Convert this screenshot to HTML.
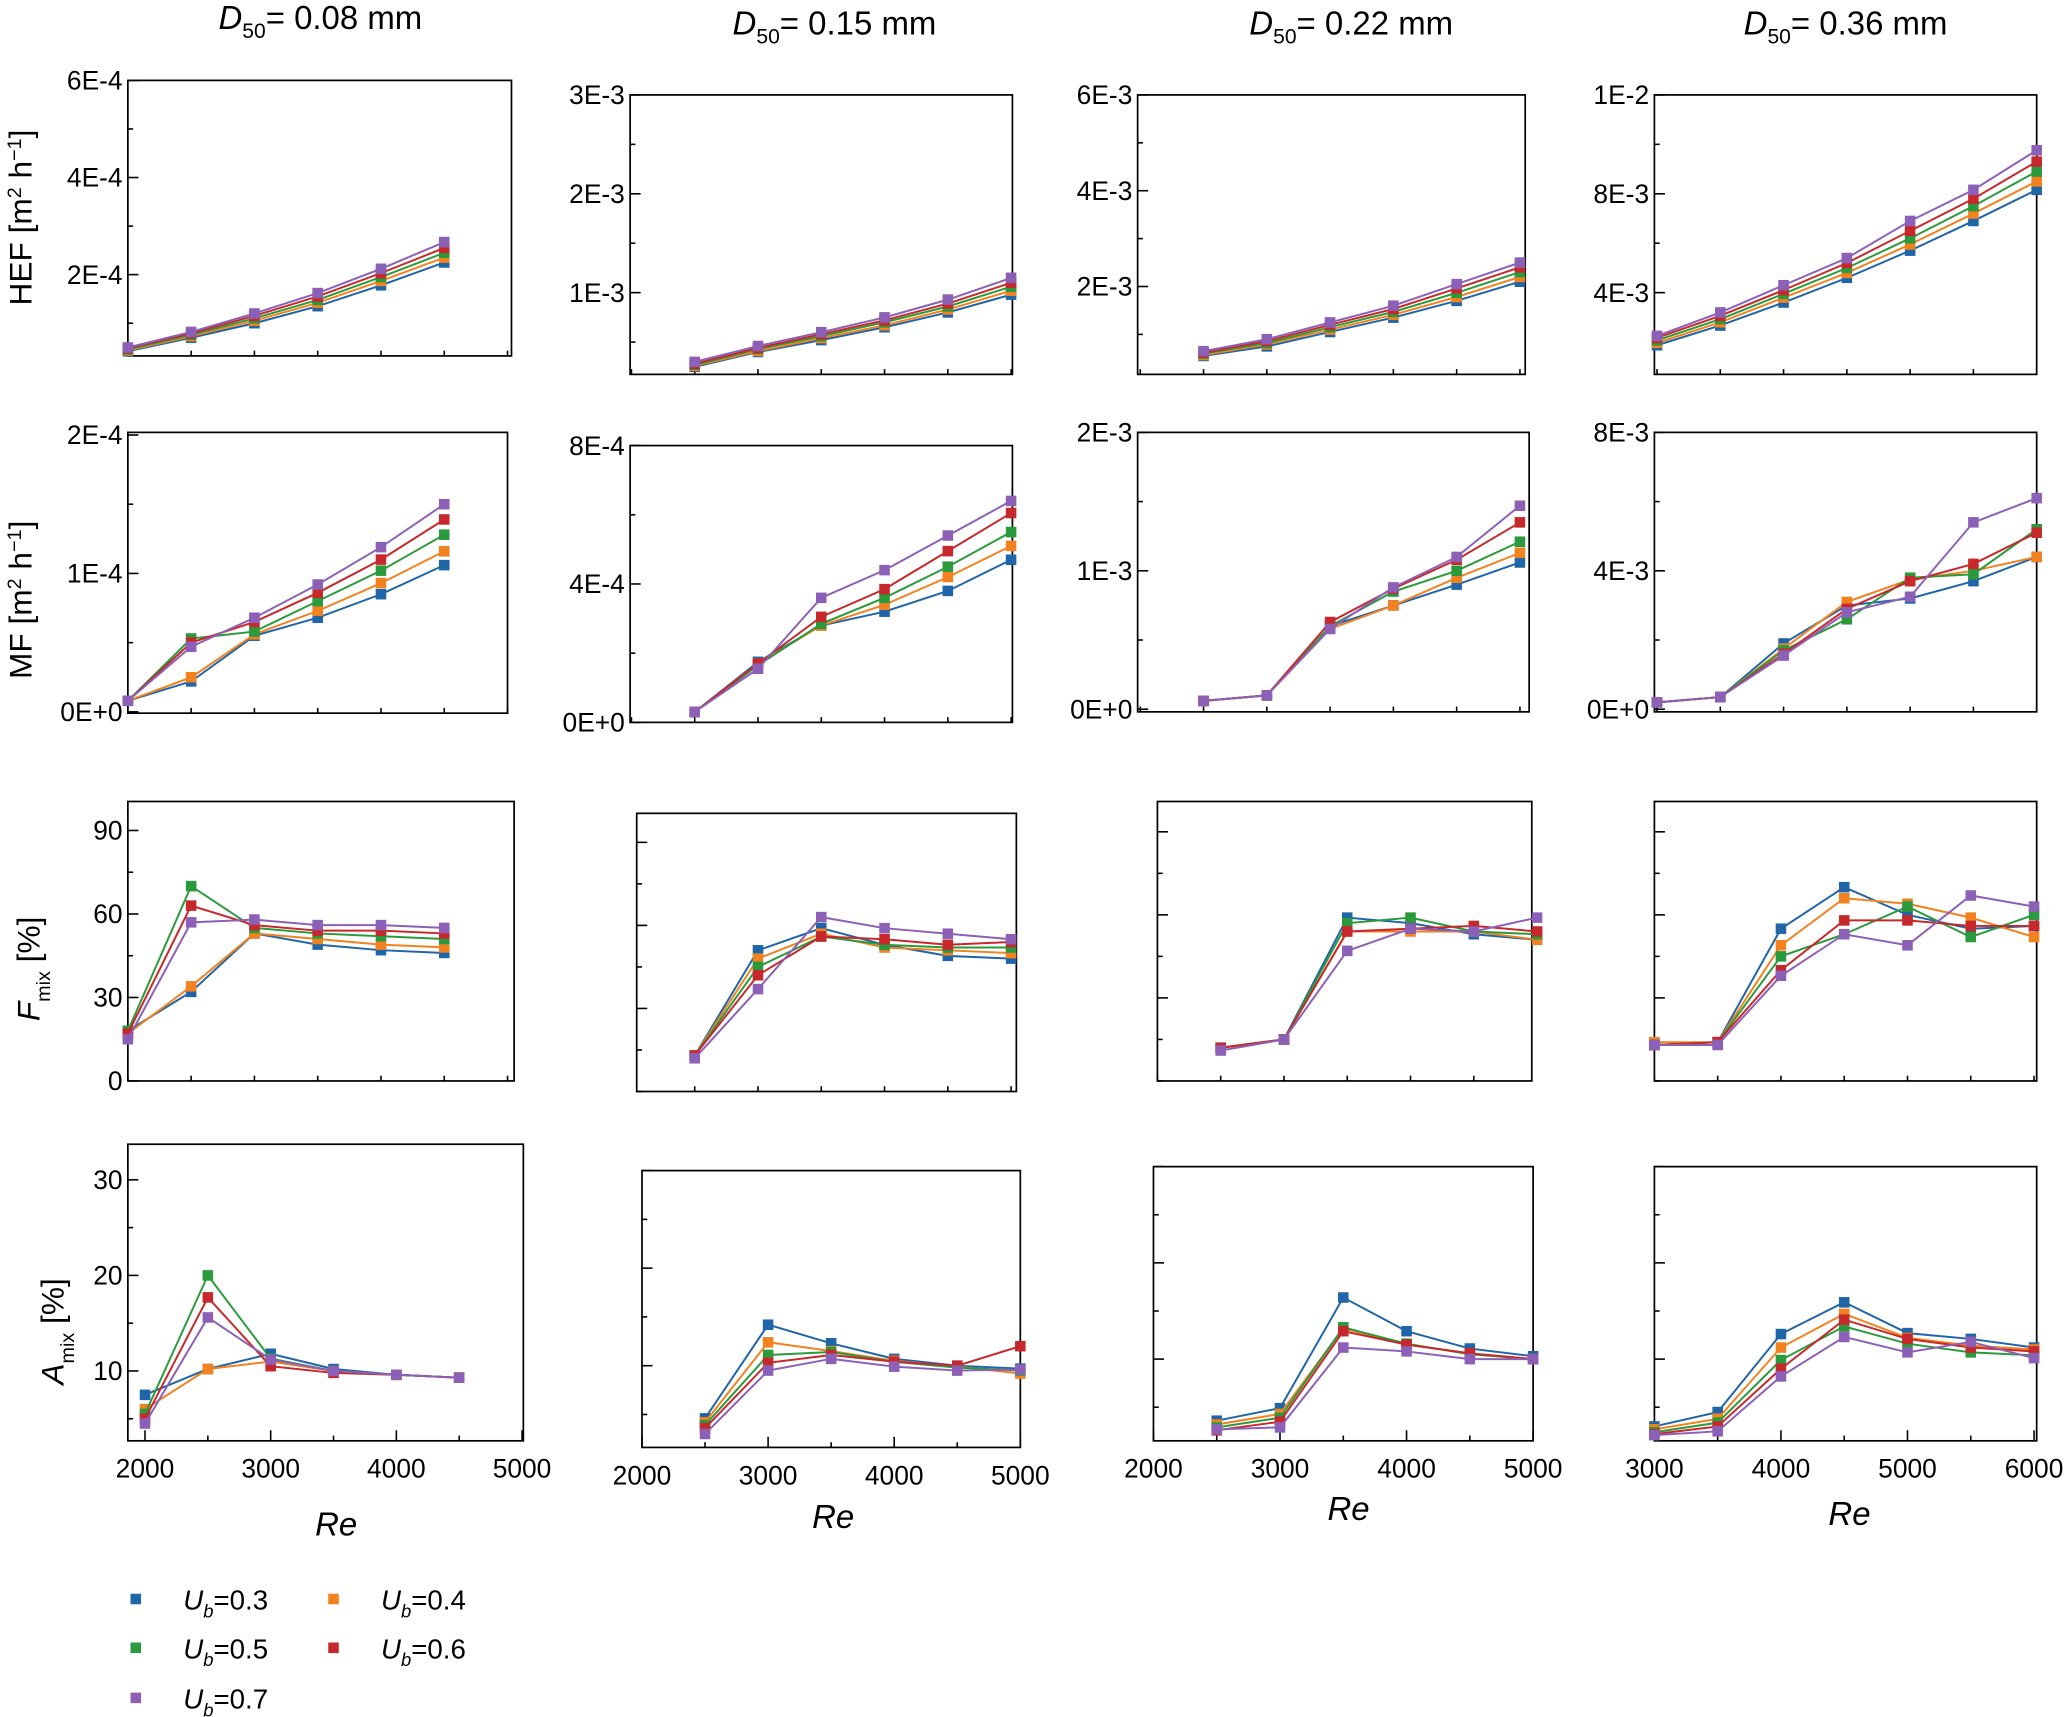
<!DOCTYPE html>
<html><head><meta charset="utf-8"><title>Chart</title>
<style>
html,body{margin:0;padding:0;background:#fff;}
svg{display:block;font-family:"Liberation Sans",sans-serif;}
</style></head>
<body>
<svg id="chart" width="2067" height="1717" viewBox="0 0 1568 1302.5" preserveAspectRatio="none" xmlns="http://www.w3.org/2000/svg">
<g id="titles" font-size="25" text-anchor="middle">
<text x="243" y="22"><tspan font-style="italic">D</tspan><tspan font-size="16" dy="7">50</tspan><tspan dy="-7">= 0.08 mm</tspan></text>
<text x="633" y="26"><tspan font-style="italic">D</tspan><tspan font-size="16" dy="7">50</tspan><tspan dy="-7">= 0.15 mm</tspan></text>
<text x="1025" y="26"><tspan font-style="italic">D</tspan><tspan font-size="16" dy="7">50</tspan><tspan dy="-7">= 0.22 mm</tspan></text>
<text x="1400" y="26"><tspan font-style="italic">D</tspan><tspan font-size="16" dy="7">50</tspan><tspan dy="-7">= 0.36 mm</tspan></text>
</g>
<g font-size="24">
<text transform="translate(24,165) rotate(-90)" text-anchor="middle">HEF [m<tspan font-size="15" dy="-8">2</tspan><tspan dy="8"> h</tspan><tspan font-size="15" dy="-8">−1</tspan><tspan dy="8">]</tspan></text>
<text transform="translate(24,455) rotate(-90)" text-anchor="middle">MF [m<tspan font-size="15" dy="-8">2</tspan><tspan dy="8"> h</tspan><tspan font-size="15" dy="-8">−1</tspan><tspan dy="8">]</tspan></text>
<text transform="translate(30,735) rotate(-90)" text-anchor="middle"><tspan font-style="italic">F</tspan><tspan font-size="15" dy="8">mix</tspan><tspan dy="-8"> [%]</tspan></text>
<text transform="translate(48,1010) rotate(-90)" text-anchor="middle"><tspan font-style="italic">A</tspan><tspan font-size="15" dy="8">mix</tspan><tspan dy="-8"> [%]</tspan></text>
</g>
<g id="panels"></g>
<g id="legend"></g>
</svg>
<script>
const seriesLabels = ['0.3','0.4','0.5','0.6','0.7'];
const seriesColors = ['#1f65a8','#f28220','#2a9a3c','#c7282b','#8d60b8'];
const reA = [2000,2500,3000,3500,4000,4500];
const reB = [2500,3000,3500,4000,4500,5000];
const reC = [3000,3500,4000,4500,5000,5500,6000];
// HEF (units of 1e-4 / 1e-3)
const hef008 = [[0.42,0.7,1.0,1.35,1.78,2.25],[0.44,0.73,1.05,1.42,1.87,2.35],[0.46,0.76,1.1,1.48,1.95,2.45],[0.48,0.79,1.15,1.55,2.03,2.55],[0.5,0.82,1.2,1.62,2.12,2.67]];
const hef015 = [[.25,.40,.52,.65,.80,.98],[.26,.41,.54,.67,.83,1.02],[.27,.43,.56,.70,.86,1.06],[.28,.44,.58,.72,.89,1.10],[.30,.46,.60,.75,.93,1.15]];
const hef022 = [[.55,.75,1.05,1.35,1.70,2.10],[.57,.79,1.10,1.41,1.78,2.20],[.60,.82,1.15,1.47,1.87,2.30],[.62,.86,1.20,1.53,1.96,2.40],[.65,.90,1.25,1.60,2.05,2.50]];
const hef036 = [[1.87,2.67,3.6,4.6,5.7,6.9,8.16],[1.97,2.80,3.8,4.8,5.95,7.2,8.5],[2.07,2.93,3.95,5.0,6.2,7.5,8.9],[2.17,3.06,4.1,5.2,6.5,7.8,9.3],[2.25,3.2,4.3,5.4,6.9,8.16,9.76]];
// MF
const mf008 = [[0.08,0.22,0.55,0.68,0.85,1.06],[0.08,0.25,0.56,0.73,0.93,1.16],[0.08,0.53,0.58,0.8,1.02,1.28],[0.08,0.5,0.65,0.86,1.1,1.39],[0.08,0.47,0.68,0.92,1.19,1.5]];
const mf015 = [[0.3,1.75,2.8,3.2,3.8,4.7],[0.3,1.7,2.8,3.4,4.2,5.1],[0.3,1.65,2.85,3.6,4.5,5.5],[0.3,1.7,3.05,3.85,4.95,6.05],[0.3,1.55,3.6,4.4,5.4,6.4]];
const mf022 = [[0.06,0.1,0.6,0.75,0.9,1.06],[0.06,0.1,0.58,0.75,0.95,1.13],[0.06,0.1,0.6,0.85,1.0,1.21],[0.06,0.1,0.63,0.87,1.08,1.35],[0.06,0.1,0.58,0.88,1.1,1.47]];
const mf036 = [[0.2,0.35,1.9,3.0,3.2,3.7,4.4],[0.2,0.35,1.75,3.1,3.75,4.0,4.4],[0.2,0.35,1.7,2.6,3.8,3.9,5.2],[0.2,0.35,1.6,2.9,3.7,4.2,5.1],[0.2,0.35,1.55,2.8,3.25,5.4,6.1]];
// Fmix
const fmix008 = [[18,32,53,49,47,46],[17,34,53,51,49,48],[18,70,55,53,52,51],[17,63,56,54,54,53],[15,57,58,56,56,55]];
const fmix015 = [[13,51,59,53,49,48],[13,48,57,52,51,50],[13,45,56,53,52,52],[13,42,56,55,53,54],[12,37,63,59,57,55]];
const fmix022 = [[12,15,59,57,53,51],[12,15,54,54,54,51],[12,15,57,59,54,53],[12,15,54,55,56,54],[11,15,47,55,54,59]];
const fmix036 = [[13,14,55,70,60,55,56],[14,14,49,66,64,59,52],[13,14,45,53,63,52,60],[13,14,40,58,58,56,56],[13,13,38,53,49,67,63]];
// Amix
const amix008 = [[7.5,10.2,11.8,10.2,9.6,9.3],[6,10.2,11,10,9.6,9.3],[5.5,20,11.3,10,9.6,9.3],[5,17.7,10.5,9.8,9.6,9.3],[4.5,15.6,11.2,10,9.6,9.3]];
const amix015 = [[4.6,14.2,12.3,10.7,10,9.7],[4.2,12.4,11.5,10.5,9.9,9.2],[3.9,11.1,11.4,10.4,9.8,9.5],[3.6,10.3,11.1,10.4,10,12.0],[3.0,9.5,10.7,9.9,9.5,9.6]];
const amix022 = [[3.6,4.9,16.4,12.9,11.1,10.3],[3.2,4.3,13.2,11.5,10.6,10],[2.9,3.9,13.3,11.6,10.5,10],[2.6,3.5,12.9,11.5,10.6,10],[2.7,2.9,11.2,10.8,10,10]];
const amix036 = [[3.0,4.5,12.6,15.9,12.7,12.1,11.2],[2.7,3.8,11.2,14.7,12.2,11.4,11.0],[2.4,3.4,9.9,13.4,11.6,10.7,10.4],[2.2,3.0,9.0,14.1,12.1,11.2,10.8],[2.1,2.5,8.2,12.3,10.7,11.8,10.1]];
// tick labels
const ticksHef008 = [[2,'2E-4'],[4,'4E-4'],[6,'6E-4']];
const ticksHef015 = [[1,'1E-3'],[2,'2E-3'],[3,'3E-3']];
const ticksHef022 = [[2,'2E-3'],[4,'4E-3'],[6,'6E-3']];
const ticksHef036 = [[4,'4E-3'],[8,'8E-3'],[12,'1E-2']];
const ticksMf008 = [[0,'0E+0'],[1,'1E-4'],[2,'2E-4']];
const ticksMf015 = [[0,'0E+0'],[4,'4E-4'],[8,'8E-4']];
const ticksMf022 = [[0,'0E+0'],[1,'1E-3'],[2,'2E-3']];
const ticksMf036 = [[0,'0E+0'],[4,'4E-3'],[8,'8E-3']];
const ticksF = [[0,'0'],[30,'30'],[60,'60'],[90,'90']];
const ticksFnl = [[30,''],[60,''],[90,'']];
const ticksA = [[10,'10'],[20,'20'],[30,'30']];
const ticksAnl = [[10,''],[20,''],[30,'']];
const xTicksAB = [2000,3000,4000,5000];
const xTicksC = [3000,4000,5000,6000];

const NS='http://www.w3.org/2000/svg';
function mk(tag,attrs,parent){const e=document.createElementNS(NS,tag);for(const k in attrs)e.setAttribute(k,attrs[k]);if(parent)parent.appendChild(e);return e;}

const panels = [
 {id:'hef-008',data:hef008,xs:reA,box:[97,388,61,270],xd:[2000,5000,97,385],yd:[0,282,6,61],yt:ticksHef008,minor:1},
 {id:'hef-015',data:hef015,xs:reB,box:[478,768,72,284],xd:[2000,5000,479,767],yd:[0,297,3,72],yt:ticksHef015,minor:0.5},
 {id:'hef-022',data:hef022,xs:reB,box:[863,1157,72,284],xd:[2000,5000,865,1153],yd:[0,290,6,72],yt:ticksHef022,minor:1},
 {id:'hef-036',data:hef036,xs:reC,box:[1255,1545,72,284],xd:[3000,6000,1257,1545],yd:[0,297,12,72],yt:ticksHef036,minor:2},
 {id:'mf-008',data:mf008,xs:reA,box:[97,385,328,541],xd:[2000,5000,97,385],yd:[0,540,2,330],yt:ticksMf008,minor:0.5},
 {id:'mf-015',data:mf015,xs:reB,box:[478,768,338,548],xd:[2000,5000,479,767],yd:[0,548,8,338],yt:ticksMf015,minor:2},
 {id:'mf-022',data:mf022,xs:reB,box:[863,1160,328,540],xd:[2000,5000,865,1153],yd:[0,538,2,328],yt:ticksMf022,minor:0.5},
 {id:'mf-036',data:mf036,xs:reC,box:[1255,1545,328,540],xd:[3000,6000,1257,1545],yd:[0,538,8,328],yt:ticksMf036,minor:2},
 {id:'fmix-008',data:fmix008,xs:reA,box:[97,390,608,820],xd:[2000,5000,97,385],yd:[0,820,90,630],yt:ticksF,minor:15},
 {id:'fmix-015',data:fmix015,xs:reB,box:[483,771,617,828],xd:[2000,5000,479,767],yd:[0,828,90,639],yt:ticksFnl,minor:15},
 {id:'fmix-022',data:fmix022,xs:reB,box:[878,1162,608,820],xd:[2000,5000,878,1166],yd:[0,820,90,631],yt:ticksFnl,minor:15},
 {id:'fmix-036',data:fmix036,xs:reC,box:[1255,1545,608,820],xd:[3000,6000,1255,1543],yd:[0,820,90,631],yt:ticksFnl,minor:15},
 {id:'amix-008',data:amix008,xs:reA,box:[97,397,868,1093],xd:[2000,5000,110,396],yd:[0,1112.5,30,895],yt:ticksA,minor:5,xt:xTicksAB,xl:[255,1165]},
 {id:'amix-015',data:amix015,xs:reB,box:[487,774,888,1098],xd:[2000,5000,487,774],yd:[0,1110,20,962],yt:ticksAnl,minor:5,xt:xTicksAB,xl:[632,1159]},
 {id:'amix-022',data:amix022,xs:reB,box:[875,1163,885,1093],xd:[2000,5000,875,1163],yd:[0,1104,20,958],yt:ticksAnl,minor:5,xt:xTicksAB,xl:[1023,1153]},
 {id:'amix-036',data:amix036,xs:reC,box:[1255,1545,885,1093],xd:[3000,6000,1255,1543],yd:[0,1104,20,958],yt:ticksAnl,minor:5,xt:xTicksC,xl:[1403,1157]}
];

const root=document.getElementById('panels');
panels.forEach(p=>{
  const g=mk('g',{},root);
  
  
  const X=v=>p.xd[2]+(v-p.xd[0])/(p.xd[1]-p.xd[0])*(p.xd[3]-p.xd[2]);
  const Y=v=>p.yd[1]+(v-p.yd[0])/(p.yd[2]-p.yd[0])*(p.yd[3]-p.yd[1]);
  const [x0,x1,y0,y1]=p.box;
  const frame=mk('rect',{x:x0,y:y0,width:x1-x0,height:y1-y0,fill:'none',stroke:'#000','stroke-width':1.3},g);
  
  
  const maxV=p.yt[p.yt.length-1][0];
  for(let v=0;v<=maxV+1e-9;v+=p.minor){
    const py=Y(v); if(py<y0-0.5||py>y1+0.5) continue;
    const major=p.yt.some(t=>Math.abs(t[0]-v)<1e-9);
    mk('line',{x1:x0,x2:x0+(major?8:4),y1:py,y2:py,stroke:'#000','stroke-width':1.2},g);
  }
  p.yt.forEach(t=>{
    if(!t[1])return;
    const tx=mk('text',{x:x0-4,y:Y(t[0])+7,'text-anchor':'end','font-size':20},g);
    tx.textContent=t[1];
    
    
  });
  const step=500;
  for(let v=p.xd[0];v<=p.xd[1];v+=step){
    const px=X(v); if(px<x0-0.5||px>x1+0.5) continue;
    const major=p.xt?p.xt.includes(v):false;
    mk('line',{x1:px,x2:px,y1:y1,y2:y1-(major?8:4),stroke:'#000','stroke-width':1.2},g);
  }
  if(p.xt){
    p.xt.forEach(v=>{
      const tx=mk('text',{x:X(v),y:y1+28,'text-anchor':'middle','font-size':20},g);
      tx.textContent=v;
      
      
    });
    const xl=mk('text',{x:p.xl[0],y:p.xl[1],'text-anchor':'middle','font-size':25,'font-style':'italic'},g);
    xl.textContent='Re';
    
    
  }
  p.data.forEach((ser,si)=>{
    const sg=mk('g',{},g);
    
    
    const pts=ser.map((v,i)=>X(p.xs[i]).toFixed(1)+','+Y(v).toFixed(1)).join(' ');
    const pl=mk('polyline',{points:pts,fill:'none',stroke:seriesColors[si],'stroke-width':1.5},sg);
    
    
    ser.forEach((v,i)=>{
      const r=mk('rect',{x:X(p.xs[i])-4,y:Y(v)-4,width:8,height:8,fill:seriesColors[si]},sg);
      
      
    });
  });
});

const lg=document.getElementById('legend');
const legendPos=[[103,1213],[253,1213],[103,1250],[253,1250],[103,1288]];
[0,1,2,3,4].forEach((si,k)=>{
  const [lx,ly]=legendPos[k];
  const e=mk('g',{},lg);
  
  
  mk('rect',{x:lx-4,y:ly-4,width:8,height:8,fill:seriesColors[si]},e);
  const t=mk('text',{x:lx+36,y:ly+8,'font-size':21},e);
  t.innerHTML='<tspan font-style="italic">U</tspan><tspan font-style="italic" font-size="14" dy="6">b</tspan><tspan dy="-6">='+seriesLabels[si]+'</tspan>';
});
</script>
</body></html>
